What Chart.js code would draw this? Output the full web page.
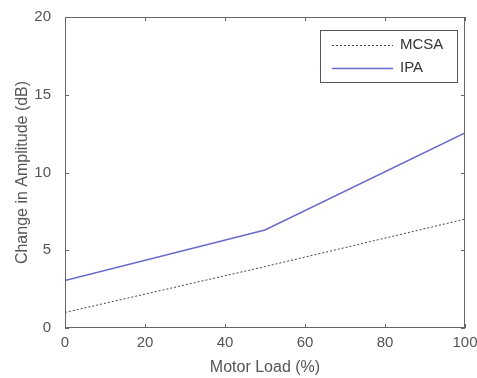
<!DOCTYPE html>
<html>
<head>
<meta charset="utf-8">
<script src="https://cdn.jsdelivr.net/npm/chart.js@4/dist/chart.umd.min.js"></script>
<style>
  html, body { margin:0; padding:0; background:#fff; }
  #wrap { width:477px; height:378px; }
</style>
</head>
<body>
<div id="wrap"><canvas id="chart" width="477" height="378"></canvas></div>
<script>
// ---- data ----
const loads = [0, 50, 100];            // Motor Load (%)
const mcsa = [1.0, 3.95, 7.0];         // dB
const ipa = [3.05, 6.3, 12.55];        // dB
const xTicks = [0, 20, 40, 60, 80, 100];
const yTicks = [0, 5, 10, 15, 20];

const FONT = 'Liberation Sans, Arial, sans-serif';
const TXT = '#555';
const AXIS = '#666';

// box + inward ticks, matlab style
const boxPlugin = {
  id:'box',
  afterDatasetsDraw(chart){
    const {ctx, chartArea:a, scales:{x, y}} = chart;
    ctx.save();
    ctx.strokeStyle = AXIS; ctx.lineWidth = 1;
    ctx.strokeRect(a.left + .5, a.top + .5, a.right - a.left - 1, a.bottom - a.top - 1);
    ctx.beginPath();
    const t = 4;
    xTicks.forEach(v => {
      const px = Math.round(x.getPixelForValue(v)) + .5;
      ctx.moveTo(px, a.bottom); ctx.lineTo(px, a.bottom - t);
      ctx.moveTo(px, a.top); ctx.lineTo(px, a.top + t);
    });
    yTicks.forEach(v => {
      const py = Math.round(y.getPixelForValue(v)) + .5;
      ctx.moveTo(a.left, py); ctx.lineTo(a.left + t, py);
      ctx.moveTo(a.right, py); ctx.lineTo(a.right - t, py);
    });
    ctx.stroke();

    // legend box
    const lx = 320, ly = 30, lw = 137, lh = 52;
    ctx.fillStyle = '#fff';
    ctx.fillRect(lx, ly, lw, lh);
    ctx.strokeStyle = '#555';
    ctx.strokeRect(lx + .5, ly + .5, lw, lh);
    ctx.font = '15px ' + FONT;
    ctx.textBaseline = 'middle';
    chart.data.datasets.forEach((ds, i) => {
      const yy = ly + 15 + i * 23;
      ctx.beginPath();
      ctx.strokeStyle = ds.borderColor;
      ctx.lineWidth = ds.borderWidth;
      ctx.setLineDash(ds.borderDash || []);
      ctx.moveTo(lx + 12, yy + .5); ctx.lineTo(lx + 73, yy + .5);
      ctx.stroke();
      ctx.setLineDash([]);
      ctx.fillStyle = '#333';
      ctx.fillText(ds.label, lx + 80, yy);
    });
    ctx.restore();
  }
};

new Chart(document.getElementById('chart'), {
  type:'line',
  data:{
    datasets:[
      {label:'MCSA', data: loads.map((l,i)=>({x:l, y:mcsa[i]})), borderColor:'#444', borderWidth:1, borderDash:[2,2], pointRadius:0, tension:0},
      {label:'IPA', data: loads.map((l,i)=>({x:l, y:ipa[i]})), borderColor:'#6a6acb', borderWidth:1.5, pointRadius:0, tension:0}
    ]
  },
  options:{
    responsive:false, animation:false,
    layout:{ padding:{ top:17, right:12, left:0, bottom:0 } },
    plugins:{ legend:{display:false}, tooltip:{enabled:false} },
    scales:{
      x:{
        type:'linear', min:0, max:100,
        afterBuildTicks: s => { s.ticks = xTicks.map(v => ({value:v})); },
        afterFit: s => { s.height = 50; s.paddingLeft = 0; s.paddingRight = 0; },
        grid:{ display:false, drawTicks:false },
        border:{ display:false },
        ticks:{ color:TXT, font:{family:FONT, size:15}, padding:6, maxRotation:0 },
        title:{ display:true, text:'Motor Load (%)', color:TXT, font:{family:FONT, size:16}, padding:{top:0, bottom:1} }
      },
      y:{
        min:0, max:20,
        afterBuildTicks: s => { s.ticks = yTicks.map(v => ({value:v})); },
        afterFit: s => { s.width = 65; s.paddingTop = 0; s.paddingBottom = 0; },
        grid:{ display:false },
        border:{ display:false },
        ticks:{ color:TXT, font:{family:FONT, size:15}, padding:6 },
        title:{ display:true, text:'Change in Amplitude (dB)', color:TXT, font:{family:FONT, size:16}, padding:{top:13, bottom:0} }
      }
    }
  },
  plugins:[boxPlugin]
});
</script>
</body>
</html>
